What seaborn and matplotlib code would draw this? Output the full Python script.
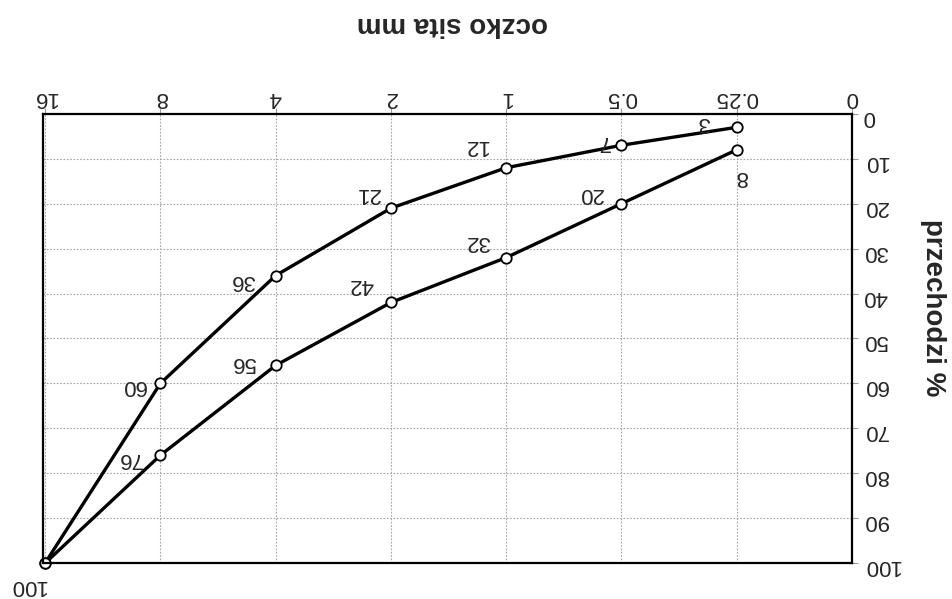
import matplotlib
matplotlib.use("Agg")
import matplotlib.pyplot as plt
import seaborn as sns
import pandas as pd

# ---- data ----
sieve_categories = ["0", "0.25", "0.5", "1", "2", "4", "8", "16"]
sieves = ["0.25", "0.5", "1", "2", "4", "8", "16"]
curve_upper = [3, 7, 12, 21, 36, 60, 100]
curve_lower = [8, 20, 32, 42, 56, 76, 100]
y_ticks = [0, 10, 20, 30, 40, 50, 60, 70, 80, 90, 100]
x_title = "oczko sita mm"
y_title = "przechodzi %"

# label offsets in pixels (screen direction)
off_upper = [(-33, 5), (-18, 4), (-30, 22), (-24, 15), (-33, -5), (-27, -2), (-18, -22)]
off_lower = [(4, -27), (-31, 10), (-28, 16), (-30, 18), (-32, 3), (-31, -3), None]

pos = {c: i for i, c in enumerate(sieve_categories)}
df = pd.DataFrame({
    "sito": [pos[s] for s in sieves] * 2,
    "przechodzi": curve_upper + curve_lower,
    "seria": ["A"] * len(sieves) + ["B"] * len(sieves),
})

sns.set_style("white")
plt.rcParams["font.family"] = ["Liberation Sans", "DejaVu Sans"]

fig = plt.figure(figsize=(9.52, 5.99), dpi=100)
ax = fig.add_axes([0.045, 0.06, 0.85, 0.75])

sns.lineplot(data=df, x="sito", y="przechodzi", hue="seria",
             palette={"A": "black", "B": "black"}, ax=ax, legend=False,
             marker="o", markersize=7.5, markerfacecolor="white",
             markeredgecolor="black", markeredgewidth=1.3, linewidth=2.4,
             sort=False, clip_on=False)

ax.set_xlim(len(sieve_categories) - 1 + 0.02, -0.0)
ax.set_ylim(100, 0)
ax.set_xticks(range(len(sieve_categories)))
ax.set_xticklabels(sieve_categories, rotation=180, fontsize=16)
ax.set_yticks(y_ticks)
ax.set_yticklabels([str(v) for v in y_ticks], rotation=180, fontsize=16)
ax.xaxis.tick_top()
ax.yaxis.tick_right()
ax.tick_params(axis="x", top=True, bottom=False, length=4, color="#999999", pad=0)
ax.tick_params(axis="y", right=True, left=False, length=4, color="#999999", pad=4)
for lab in ax.get_xticklabels():
    lab.set_va("bottom")
for lab in ax.get_yticklabels():
    lab.set_ha("left")
ax.grid(True, color="#a5a5a5", linestyle=(0, (1.5, 1.5)), linewidth=0.8)
for s in ax.spines.values():
    s.set_color("black")
    s.set_linewidth(1.6)
ax.set_xlabel("")
ax.set_ylabel("")

for vals, offs in ((curve_upper, off_upper), (curve_lower, off_lower)):
    for s, v, o in zip(sieves, vals, offs):
        if o is None:
            continue
        ax.annotate(str(v), (pos[s], v), xytext=o, textcoords="offset pixels",
                    rotation=180, ha="center", va="center", fontsize=16,
                    annotation_clip=False)

fig.text(0.475, 1 - 24 / 599, x_title, rotation=180, ha="center", va="center",
         fontsize=20, fontweight="bold")
fig.text(933 / 952, 1 - 308 / 599, y_title, rotation=270, ha="center", va="center",
         fontsize=20, fontweight="bold")

fig.savefig("out.png", dpi=100, facecolor="white")
